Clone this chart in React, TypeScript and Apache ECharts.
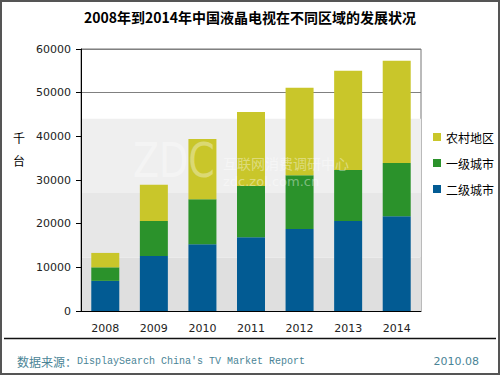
import React, { useEffect, useRef } from "react";
import * as echarts from "echarts";

const categories = ["2008", "2009", "2010", "2011", "2012", "2013", "2014"];
const tier2 = [6900, 12600, 15300, 16900, 18800, 20600, 21700];
const tier1 = [3100, 8000, 10300, 11700, 12300, 11700, 12200];
const rural = [3300, 8300, 13800, 17000, 20000, 22700, 23400];
const bandEdges = [0, 12200, 27000, 44000];
const bandColors = ["#dfdfdf", "#e7e7e7", "#efefef"];

const title = "2008年到2014年中国液晶电视在不同区域的发展状况";
const CJK = '"Noto Sans CJK SC", "DejaVu Sans", sans-serif';
const NUM = '"DejaVu Sans", Verdana, sans-serif';

export default function App() {
  const ref = useRef<HTMLDivElement>(null);
  useEffect(() => {
    if (!ref.current) return;
    const chart = echarts.init(ref.current, null, { renderer: "svg" });
    const bands = bandColors.map((c, i) => [
      { yAxis: bandEdges[i], itemStyle: { color: c } },
      { yAxis: bandEdges[i + 1] },
    ]);
    chart.setOption({
      animation: false,
      backgroundColor: "#ffffff",
      grid: {
        left: 81,
        top: 49,
        width: 340,
        height: 262,
        show: true,
        borderColor: "#777777",
        borderWidth: 1,
        backgroundColor: "transparent",
      },
      legend: {
        orient: "vertical",
        left: 428,
        top: 126,
        itemWidth: 8,
        itemHeight: 8,
        itemGap: 14,
        icon: "rect",
        data: ["农村地区", "一级城市", "二级城市"],
        textStyle: { fontFamily: CJK, fontSize: 12, color: "#000" },
      },
      xAxis: {
        type: "category",
        data: categories,
        z: 3,
        axisLine: { lineStyle: { color: "#000", width: 1 } },
        axisTick: { inside: true, length: 3, lineStyle: { color: "#000" } },
        axisLabel: { fontFamily: NUM, fontSize: 11, color: "#222", margin: 12 },
      },
      yAxis: {
        type: "value",
        min: 0,
        max: 60000,
        interval: 10000,
        z: 1,
        axisLine: { show: true, lineStyle: { color: "#000", width: 1 } },
        axisTick: { show: true, length: 5, lineStyle: { color: "#000" } },
        axisLabel: {
          fontFamily: NUM,
          fontSize: 11,
          color: "#222",
          margin: 10,
          formatter: (v: number) => String(v),
        },
        splitLine: { lineStyle: { color: "#808080", width: 1 } },
      },
      series: [
        {
          name: "bands",
          type: "line",
          data: [],
          z: 0,
          silent: true,
          markArea: { silent: true, data: bands },
        },
        {
          name: "二级城市",
          type: "bar",
          stack: "t",
          z: 2,
          data: tier2,
          barWidth: 28,
          itemStyle: { color: "#025b93" },
        },
        {
          name: "一级城市",
          type: "bar",
          stack: "t",
          z: 2,
          data: tier1,
          barWidth: 28,
          itemStyle: { color: "#2b922b" },
        },
        {
          name: "农村地区",
          type: "bar",
          stack: "t",
          z: 2,
          data: rural,
          barWidth: 28,
          itemStyle: { color: "#c9c62a" },
        },
      ],
      graphic: [
        {
          type: "text",
          left: "center",
          top: 10,
          z: 10,
          style: {
            text: title,
            font: `bold 14px ${CJK}`,
            fill: "#000",
          },
        },
        {
          type: "text",
          x: 19,
          y: 137,
          z: 10,
          style: { text: "千", font: `12px ${CJK}`, fill: "#000", align: "center", verticalAlign: "middle" },
        },
        {
          type: "text",
          x: 19,
          y: 160,
          z: 10,
          style: { text: "台", font: `12px ${CJK}`, fill: "#000", align: "center", verticalAlign: "middle" },
        },
        {
          type: "text",
          x: 133,
          y: 160,
          scaleY: 1.25,
          z: 10,
          silent: true,
          style: {
            text: "ZDC",
            font: `38px ${NUM}`,
            fill: "rgba(255,255,255,0.35)",
            verticalAlign: "middle",
          },
        },
        {
          type: "text",
          x: 223,
          y: 163,
          z: 10,
          silent: true,
          style: {
            text: "互联网消费调研中心",
            font: `14px ${CJK}`,
            fill: "rgba(255,255,255,0.4)",
            verticalAlign: "middle",
          },
        },
        {
          type: "text",
          x: 223,
          y: 181,
          z: 10,
          silent: true,
          style: {
            text: "zdc.zol.com.cn",
            font: `13px ${NUM}`,
            fill: "rgba(255,255,255,0.4)",
            verticalAlign: "middle",
          },
        },
        {
          type: "line",
          z: 10,
          shape: { x1: 4, y1: 338.5, x2: 496, y2: 338.5 },
          style: { stroke: "#111", lineWidth: 1.5 },
        },
        {
          type: "text",
          x: 17,
          y: 361,
          z: 10,
          style: {
            text: "{a|数据来源：}{b|DisplaySearch China's TV Market Report}",
            verticalAlign: "middle",
            rich: {
              a: { fontFamily: CJK, fontSize: 12, fill: "#4a8496", color: "#4a8496" },
              b: { fontFamily: '"Liberation Mono", monospace', fontSize: 10, fill: "#4a8496", color: "#4a8496" },
            },
          },
        },
        {
          type: "text",
          x: 479,
          y: 361,
          z: 10,
          style: {
            text: "2010.08",
            font: `11px ${NUM}`,
            fill: "#4a8496",
            align: "right",
            verticalAlign: "middle",
          },
        },
        {
          type: "rect",
          z: 20,
          shape: { x: 1, y: 1, width: 498, height: 373 },
          style: { fill: "none", stroke: "#555", lineWidth: 2 },
        },
      ],
    });
    return () => chart.dispose();
  }, []);
  return (
    <div
      ref={ref}
      style={{ position: "absolute", left: 0, top: 0, width: 500, height: 375 }}
    />
  );
}
